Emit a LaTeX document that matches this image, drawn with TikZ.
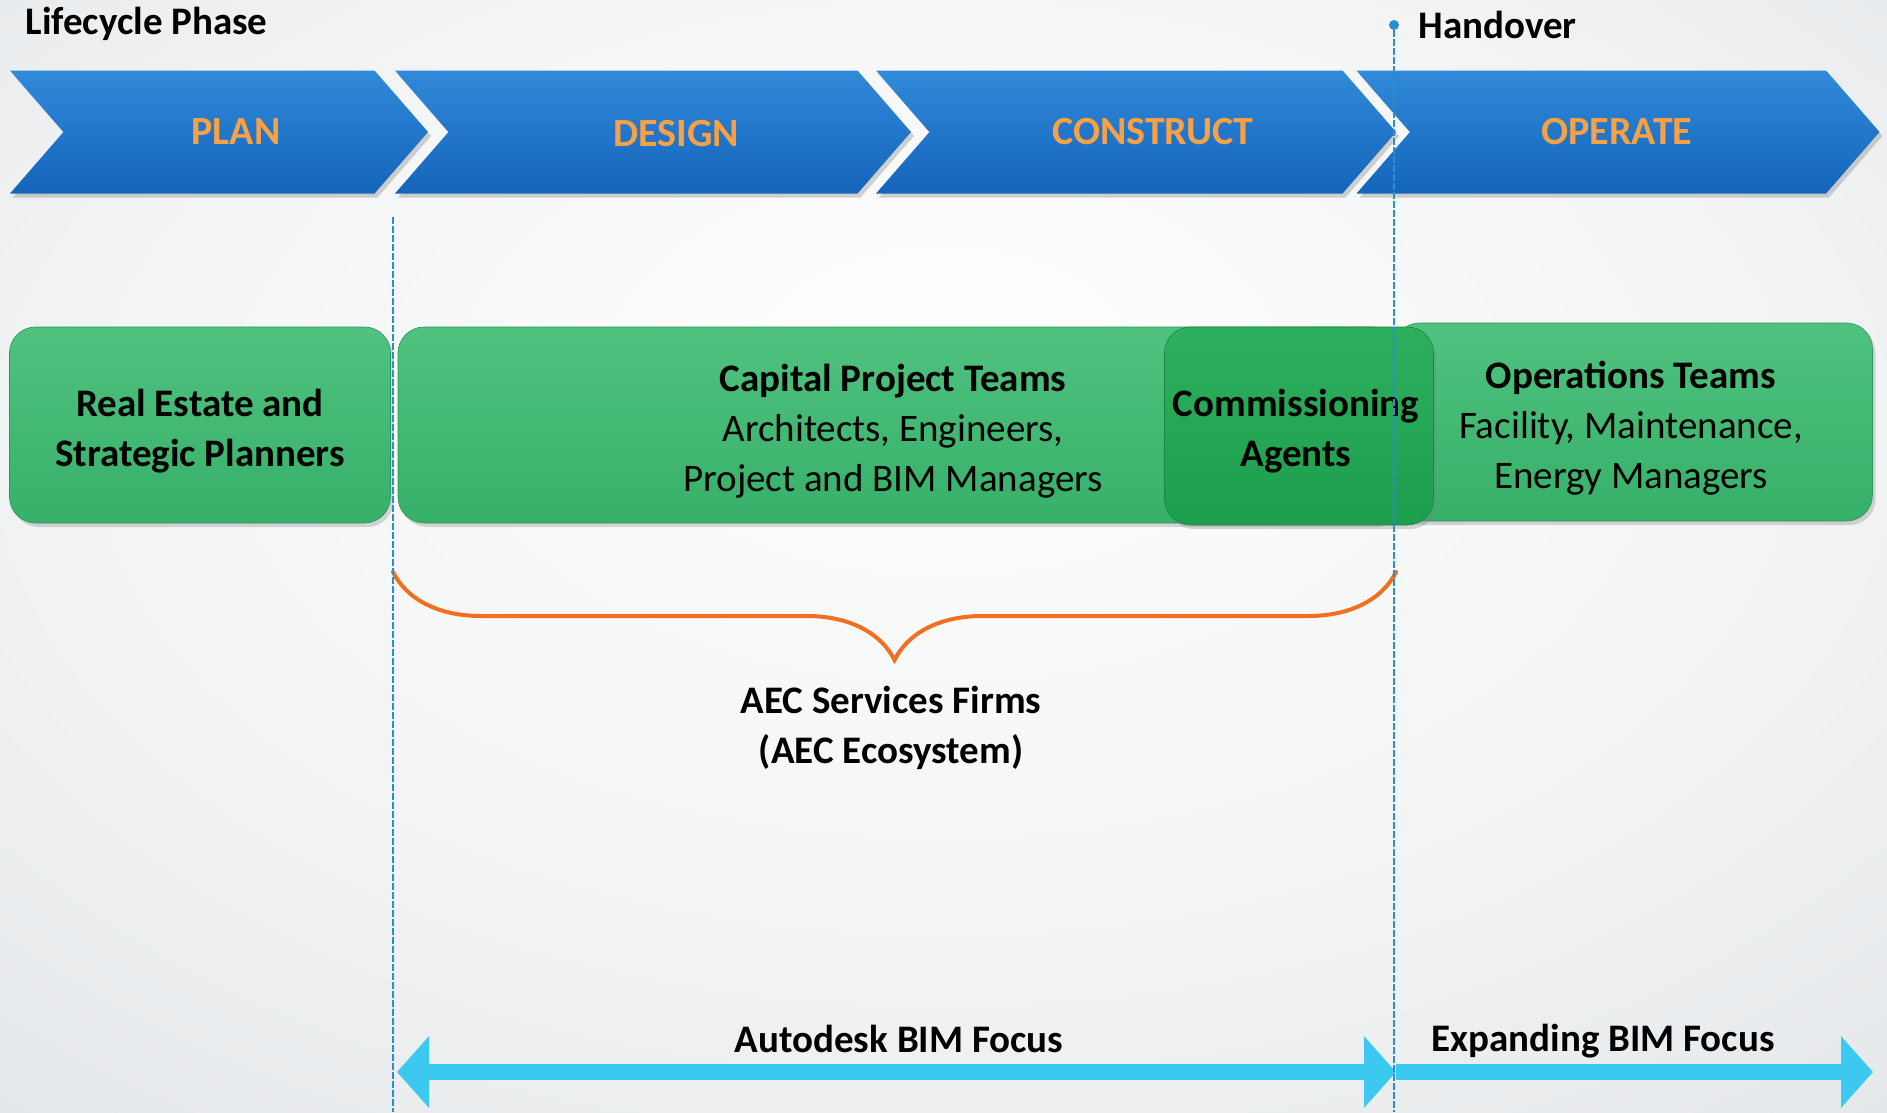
\documentclass[tikz,border=0pt]{standalone}
\usepackage{fontspec}
\setmainfont{Carlito}
\usetikzlibrary{arrows.meta,calc,positioning,shapes.symbols,shadows,
  decorations.pathreplacing}

\definecolor{bglight}{HTML}{F3F4F5}
\definecolor{bgdark}{HTML}{D9DEE2}
\definecolor{phasetop}{HTML}{3189D9}
\definecolor{phaseblue}{HTML}{1465BB}
\definecolor{phaseorange}{HTML}{F7A146}
\definecolor{teamtop}{HTML}{4FC27F}
\definecolor{teamgreen}{HTML}{37B069}
\definecolor{agenttop}{HTML}{2DB05E}
\definecolor{agentgreen}{HTML}{1D9E4E}
\definecolor{braceorange}{HTML}{F07020}
\definecolor{lineblue}{HTML}{2A8FD0}
\definecolor{arrowcyan}{HTML}{3CC9F0}

\pgfdeclareradialshading{backdrop}{\pgfpoint{0bp}{10bp}}{%
  color(0bp)=(white); color(22bp)=(bglight); color(50bp)=(bgdark)}

\tikzset{
  phase/.style={signal, signal from=west, signal to=east,
    signal pointer angle=98, minimum height=123pt, inner sep=0pt,
    top color=phasetop, bottom color=phaseblue,
    drop shadow={shadow xshift=3pt,shadow yshift=-4pt,opacity=0.35}},
  phasetext/.style={text=phaseorange, font=\fontsize{40}{46}\selectfont\bfseries},
  team/.style={rounded corners=26pt, top color=teamtop, bottom color=teamgreen,
    draw=teamgreen!85!black, line width=0.6pt, inner sep=0pt,
    drop shadow={shadow xshift=3pt,shadow yshift=-4pt,opacity=0.3}},
  agent/.style={team, top color=agenttop, bottom color=agentgreen,
    draw=agentgreen!85!black},
  boxtext/.style={align=center, font=\fontsize{39}{50}\selectfont},
  title/.style={font=\fontsize{39}{50}\selectfont\bfseries, align=center},
  marker/.style={lineblue, line width=1.6pt, dash pattern=on 7pt off 2pt},
  focus/.style={arrowcyan, line width=16pt},
  bracket/.style={braceorange, line width=4pt, line cap=round,
    decorate, decoration={brace, amplitude=88pt, aspect=0.5}}
}

\begin{document}
\begin{tikzpicture}[x=1pt,y=-1pt]
  \useasboundingbox (0,0) rectangle (1887,1112);
  \shade[shading=backdrop] (0,0) rectangle (1887,1112);

  \node[title, anchor=base west] (life) at (22,34) {Lifecycle Phase};

  \node[phase, minimum width=418pt] (plan) at (219,132) {};
  \node[phase, minimum width=516pt] (design) at (653,132) {};
  \node[phase, minimum width=520pt] (construct) at (1136,132) {};
  \node[phase, minimum width=523pt] (operate) at (1618,132) {};
  \node[phasetext] (planT) at (236,132) {PLAN};
  \node[phasetext] (designT) at (676,134) {DESIGN};
  \node[phasetext] (constructT) at (1153,132) {CONSTRUCT};
  \node[phasetext] (operateT) at (1617,132) {OPERATE};

  \node[team, minimum width=381pt, minimum height=196pt] (estate) at (200,425) {};
  \node[team, minimum width=1002pt, minimum height=196pt] (capital) at (899,425) {};
  \node[team, minimum width=479pt, minimum height=198pt] (ops) at (1633,422) {};
  \node[agent, minimum width=269pt, minimum height=198pt] (agents) at (1299,426) {};
  \node[boxtext] (estateT) at ([yshift=-6pt]estate.center)
    {\textbf{Real Estate and}\\\textbf{Strategic Planners}};
  \node[boxtext] (capitalT) at ([xshift=-6pt,yshift=-6pt]capital.center)
    {\textbf{Capital Project Teams}\\Architects, Engineers,\\Project and BIM Managers};
  \node[boxtext] (opsT) at ([xshift=-2pt,yshift=-6pt]ops.center)
    {\textbf{Operations Teams}\\Facility, Maintenance,\\Energy Managers};
  \node[boxtext] (agentsT) at ([xshift=-3pt,yshift=-5pt]agents.center)
    {\textbf{Commissioning}\\\textbf{Agents}};

  \coordinate (brL) at (393,572);
  \coordinate (brR) at (1396,572);
  \draw[bracket] (brR) -- (brL);
  \node[title] (aec) at (891,728) {AEC Services Firms\\(AEC Ecosystem)};

  \coordinate (f1) at (397,1072);
  \coordinate (f2) at (1396,1072);
  \coordinate (f3) at (1873,1072);
  \draw[focus, {Triangle[length=32pt,width=70pt]}-{Triangle[length=32pt,width=70pt]}]
    (f1) -- (f2);
  \draw[focus, -{Triangle[length=32pt,width=70pt]}] (f2) -- (f3);
  \node[title] (autodesk) at (899,1039) {Autodesk BIM Focus};
  \node[title] (expand) at (1603,1041) {Expanding BIM Focus};

  \coordinate (m1top) at (393,217);
  \coordinate (m1bot) at (393,1112);
  \coordinate (m2bot) at (1394,1112);
  \node[circle, fill=lineblue, inner sep=0pt, minimum size=10pt] (hdot) at (1394,25) {};
  \draw[marker] (m1top) -- (m1bot);
  \draw[marker] (hdot) -- (m2bot);
  \node[title, anchor=base west] (handover) at (1415,38) {Handover};
\end{tikzpicture}
\end{document}
